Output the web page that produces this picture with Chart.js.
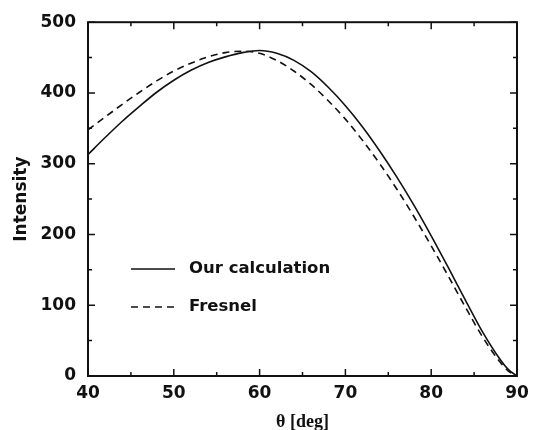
<!DOCTYPE html>
<html lang="en">
<head>
  <meta charset="UTF-8" />
  <title>Intensity vs theta</title>
  <script src="https://cdn.jsdelivr.net/npm/chart.js@4.4.1/dist/chart.umd.min.js"></script>
  <style>
    html, body { margin: 0; padding: 0; background: #fff; }
    #wrap { width: 538px; height: 430px; }
  </style>
</head>
<body>
  <div id="wrap"><canvas id="chart" width="538" height="430"></canvas></div>

  <script>
  // angle in degrees
  const thetaDeg = [40, 42, 44, 46, 48, 50, 52, 54, 56, 58, 60, 62, 64, 66, 68, 70, 72, 74, 76, 78, 80, 82, 84, 86, 88, 89, 90];
  // solid curve
  const ourCalc  = [313, 337, 360, 381, 401, 418, 432, 443, 451, 457, 460, 456, 446, 430, 408, 382, 352, 318, 281, 241, 198, 153, 107, 62, 24, 9, 0];
  // dashed curve
  const fresnel  = [348, 366, 384, 401, 417, 431, 442, 451, 457, 459, 456, 446, 431, 412, 389, 363, 333, 300, 264, 225, 184, 141, 97, 55, 20, 7, 0];

  const xMajor = 10, yMajor = 100;
  const INK = '#111';

  const pts = arr => thetaDeg.map((t, i) => ({ x: t, y: arr[i] }));

  // frame, inward ticks on all four sides, legend inside the plot
  const framePlugin = {
    id: 'frame',
    afterDraw(chart) {
      const { ctx, chartArea: a, scales: { x, y } } = chart;
      ctx.save();
      ctx.strokeStyle = INK;
      ctx.lineWidth = 2;
      ctx.strokeRect(a.left, a.top, a.right - a.left, a.bottom - a.top);

      ctx.lineWidth = 1.5;
      ctx.beginPath();
      x.ticks.forEach(t => {
        const px = x.getPixelForValue(t.value);
        const len = t.value % xMajor === 0 ? 7 : 4;
        ctx.moveTo(px, a.bottom); ctx.lineTo(px, a.bottom - len);
        ctx.moveTo(px, a.top);    ctx.lineTo(px, a.top + len);
      });
      y.ticks.forEach(t => {
        const py = y.getPixelForValue(t.value);
        const len = t.value % yMajor === 0 ? 7 : 4;
        ctx.moveTo(a.left, py);  ctx.lineTo(a.left + len, py);
        ctx.moveTo(a.right, py); ctx.lineTo(a.right - len, py);
      });
      ctx.stroke();

      // legend
      const rows = [269, 307];
      ctx.font = 'bold 16.5px "DejaVu Sans"';
      ctx.textBaseline = 'middle';
      ctx.fillStyle = INK;
      chart.data.datasets.forEach((ds, i) => {
        ctx.beginPath();
        ctx.setLineDash(ds.borderDash || []);
        ctx.lineWidth = ds.borderWidth;
        ctx.strokeStyle = ds.borderColor;
        ctx.moveTo(131, rows[i]); ctx.lineTo(175, rows[i]);
        ctx.stroke();
        ctx.setLineDash([]);
        ctx.fillText(ds.label, 189, rows[i]);
      });
      ctx.restore();
    }
  };

  new Chart(document.getElementById('chart'), {
    type: 'line',
    data: {
      datasets: [
        {
          label: 'Our calculation',
          data: pts(ourCalc),
          borderColor: INK,
          borderWidth: 1.6,
          pointRadius: 0,
          cubicInterpolationMode: 'monotone',
          fill: false
        },
        {
          label: 'Fresnel',
          data: pts(fresnel),
          borderColor: INK,
          borderWidth: 1.6,
          borderDash: [7, 5],
          pointRadius: 0,
          cubicInterpolationMode: 'monotone',
          fill: false
        }
      ]
    },
    options: {
      responsive: false,
      animation: false,
      devicePixelRatio: 1,
      layout: { padding: { left: 0, top: 16, right: 21, bottom: 0 } },
      plugins: { legend: { display: false }, tooltip: { enabled: false } },
      scales: {
        x: {
          type: 'linear',
          min: 40, max: 90,
          afterFit: s => { s.height = 54; },
          grid: { display: false, drawTicks: false },
          border: { display: false },
          ticks: {
            stepSize: 5,
            padding: 7,
            color: INK,
            font: { family: '"DejaVu Sans"', size: 17, weight: 'bold' },
            maxRotation: 0,
            autoSkip: false,
            callback: v => v % xMajor === 0 ? v : ''
          },
          title: {
            display: true,
            text: 'θ [deg]',
            color: INK,
            font: { family: '"Liberation Serif"', size: 18, weight: 'bold', lineHeight: 0.9 },
            padding: { top: 0, bottom: 0 }
          }
        },
        y: {
          min: 0, max: 500,
          afterFit: s => { s.width = 88; },
          grid: { display: false, drawTicks: false },
          border: { display: false },
          ticks: {
            stepSize: 50,
            padding: 12,
            color: INK,
            font: { family: '"DejaVu Sans"', size: 17, weight: 'bold' },
            autoSkip: false,
            callback: v => v % yMajor === 0 ? v : ''
          },
          title: {
            display: true,
            text: 'Intensity',
            color: INK,
            font: { family: '"DejaVu Sans"', size: 17, weight: 'bold' },
            padding: { top: 11, bottom: 0 }
          }
        }
      }
    },
    plugins: [framePlugin]
  });
  </script>
</body>
</html>
